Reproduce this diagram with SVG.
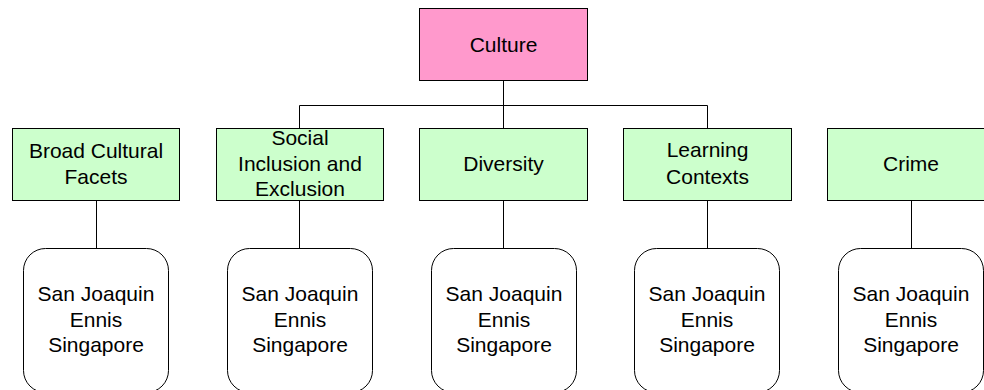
<svg xmlns="http://www.w3.org/2000/svg" width="984" height="390" viewBox="0 0 984 390">
  <style>
    .box { stroke: #000; stroke-width: 1; }
    .root { fill: #FF99CC; }
    .topic { fill: #CCFFCC; }
    .site { fill: #FFFFFF; }
    .lbl { font-family: "Liberation Sans", Arial, sans-serif; font-size: 21px; fill: #000; text-anchor: middle; }
    .wire { stroke: #000; stroke-width: 1; fill: none; }
  </style>
  <rect width="984" height="390" fill="#FFFFFF"/>

  <!-- connectors -->
  <g id="connectors">
    <path class="wire" d="M503.5 80 V105.5 M299.5 105.5 H707.5 M299.5 105.5 V128 M503.5 105.5 V128 M707.5 105.5 V128"/>
    <path class="wire" d="M96.5 200 V248 M299.5 200 V248 M503.5 200 V248 M707.5 200 V248 M911.5 200 V248"/>
  </g>

  <!-- root -->
  <g id="culture">
    <rect class="box root" x="419.5" y="8.5" width="168" height="72"/>
    <text class="lbl" x="503.5" y="52">Culture</text>
  </g>

  <!-- topics -->
  <g id="broad">
    <rect class="box topic" x="12.5" y="128.5" width="167" height="72"/>
    <text class="lbl" x="96" y="158">Broad Cultural</text>
    <text class="lbl" x="96" y="184">Facets</text>
  </g>
  <g id="social">
    <rect class="box topic" x="216.5" y="128.5" width="167" height="72"/>
    <text class="lbl" x="300" y="145">Social</text>
    <text class="lbl" x="300" y="171">Inclusion and</text>
    <text class="lbl" x="300" y="196">Exclusion</text>
  </g>
  <g id="diversity">
    <rect class="box topic" x="419.5" y="128.5" width="168" height="72"/>
    <text class="lbl" x="503.5" y="171">Diversity</text>
  </g>
  <g id="learning">
    <rect class="box topic" x="623.5" y="128.5" width="168" height="72"/>
    <text class="lbl" x="707.5" y="157">Learning</text>
    <text class="lbl" x="707.5" y="184">Contexts</text>
  </g>
  <g id="crime">
    <rect class="box topic" x="827.5" y="128.5" width="168" height="72"/>
    <text class="lbl" x="911" y="171">Crime</text>
  </g>

  <!-- sites -->
  <g id="site-broad">
    <rect class="box site" x="23.5" y="248.5" width="145" height="144" rx="22"/>
    <text class="lbl" x="96" y="301">San Joaquin</text>
    <text class="lbl" x="96" y="327">Ennis</text>
    <text class="lbl" x="96" y="352">Singapore</text>
  </g>
  <g id="site-social">
    <rect class="box site" x="227.5" y="248.5" width="145" height="144" rx="22"/>
    <text class="lbl" x="300" y="301">San Joaquin</text>
    <text class="lbl" x="300" y="327">Ennis</text>
    <text class="lbl" x="300" y="352">Singapore</text>
  </g>
  <g id="site-diversity">
    <rect class="box site" x="431.5" y="248.5" width="145" height="144" rx="22"/>
    <text class="lbl" x="504" y="301">San Joaquin</text>
    <text class="lbl" x="504" y="327">Ennis</text>
    <text class="lbl" x="504" y="352">Singapore</text>
  </g>
  <g id="site-learning">
    <rect class="box site" x="634.5" y="248.5" width="145" height="144" rx="22"/>
    <text class="lbl" x="707" y="301">San Joaquin</text>
    <text class="lbl" x="707" y="327">Ennis</text>
    <text class="lbl" x="707" y="352">Singapore</text>
  </g>
  <g id="site-crime">
    <rect class="box site" x="838.5" y="248.5" width="145" height="144" rx="22"/>
    <text class="lbl" x="911" y="301">San Joaquin</text>
    <text class="lbl" x="911" y="327">Ennis</text>
    <text class="lbl" x="911" y="352">Singapore</text>
  </g>
</svg>
